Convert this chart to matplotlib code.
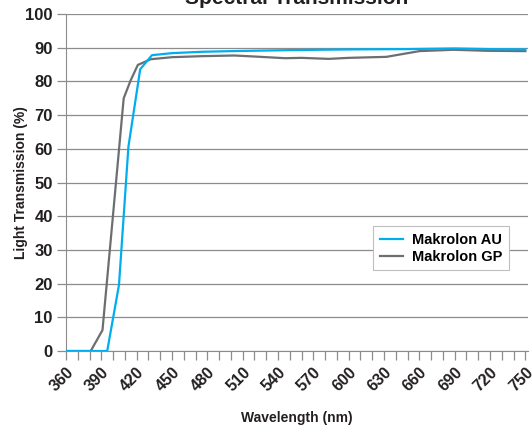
import numpy as np
import matplotlib
matplotlib.use("Agg")
import matplotlib.pyplot as plt

plt.rcParams['font.family'] = ['Liberation Sans', 'DejaVu Sans']

# Makrolon AU (blue)
au_nm = [360, 380, 395, 405, 413, 423, 433, 450, 475, 500, 550, 600, 650, 690, 720, 750]
au_t = [0, 0, 0, 19.6, 60.6, 83.6, 87.8, 88.4, 88.8, 89.0, 89.3, 89.5, 89.6, 89.8, 89.6, 89.5]

# Makrolon GP (grey)
gp_nm = [360, 381, 391, 409, 415, 421, 432, 450, 475, 503, 520, 546, 560, 583, 600, 632, 660, 689, 717, 750]
gp_t = [0, 0, 6.2, 75.0, 80.4, 84.9, 86.6, 87.2, 87.5, 87.7, 87.4, 86.9, 87.0, 86.7, 87.0, 87.3, 89.0, 89.4, 89.1, 89.0]

xticks = np.arange(360, 751, 10)
xlabels = [str(v) if (v - 360) % 30 == 0 else '' for v in xticks]
yticks = np.arange(0, 101, 10)

fig = plt.figure(figsize=(5.32, 4.26), dpi=100)
ax = fig.add_axes([0.124, 0.176, 0.868, 0.791])

ax.plot(au_nm, au_t, color='#00AEEF', lw=1.6, label='Makrolon AU', zorder=3)
ax.plot(gp_nm, gp_t, color='#6D6E71', lw=1.6, label='Makrolon GP', zorder=2)

ax.set_xlim(360, 752)
ax.set_ylim(0, 100)
ax.set_yticks(yticks)
ax.set_xticks(xticks)
ax.set_xticklabels(xlabels, rotation=45, ha='right', rotation_mode='anchor',
                   fontsize=11.5, fontweight='bold', color='#231F20')
for lab in ax.get_yticklabels():
    lab.set_fontsize(12)
    lab.set_fontweight('bold')
    lab.set_color('#231F20')

ax.grid(axis='y', color='#8C8C8C', lw=0.9)
ax.set_axisbelow(True)
for s in ['top', 'right']:
    ax.spines[s].set_visible(False)
ax.spines['left'].set_color('#8C8C8C')
ax.spines['bottom'].set_color('#8C8C8C')
ax.tick_params(axis='both', colors='#8C8C8C', labelcolor='#231F20', length=6.5, width=0.9)
ax.tick_params(axis='y', pad=3)
ax.tick_params(axis='x', pad=3)

ax.set_xlabel('Wavelength (nm)', fontsize=10, fontweight='bold', color='#231F20', labelpad=12.5)
ax.set_ylabel('Light Transmission (%)', fontsize=10, fontweight='bold', color='#231F20', labelpad=-2)
ax.set_title('Spectral Transmission', fontsize=15, fontweight='bold', color='#231F20', pad=7)

leg = ax.legend(loc='upper left', bbox_to_anchor=(0.665, 0.37), borderaxespad=0,
                prop={'weight': 'bold', 'size': 10.5},
                frameon=True, fancybox=False, edgecolor='#BFBFBF', framealpha=1,
                handlelength=1.6, handletextpad=0.6, borderpad=0.45, labelspacing=0.2)
leg.get_frame().set_linewidth(0.8)

fig.savefig('out.png', dpi=100)
